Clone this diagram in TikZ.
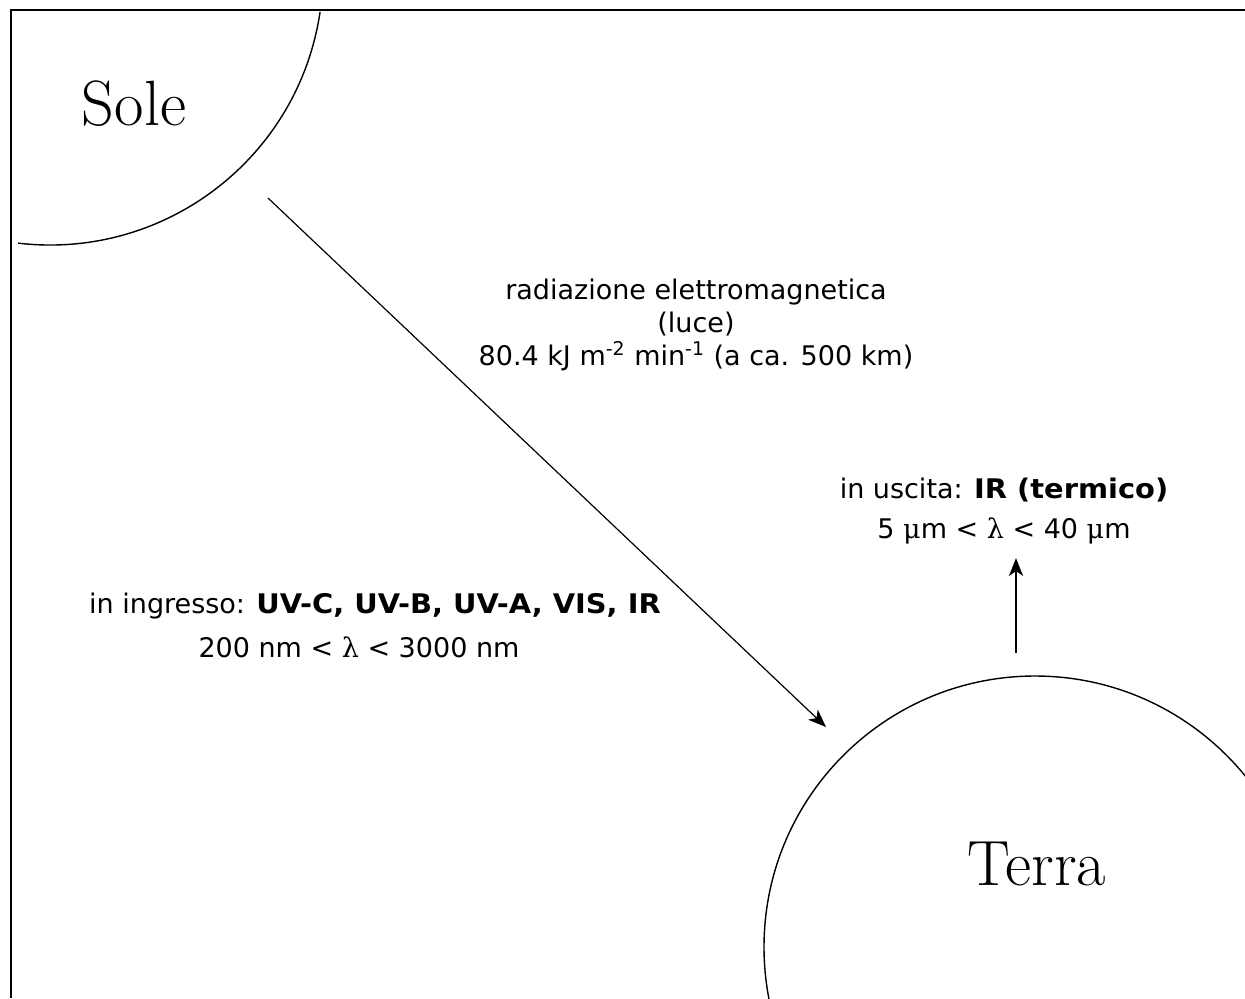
\documentclass[tikz,border=0pt]{standalone}
\usepackage{fontspec}
\setsansfont{DejaVu Sans}[BoldFeatures={FakeStretch=1.07}]
\newfontfamily\greekfont{DejaVu Serif}
\usepackage{tikz}
\usetikzlibrary{arrows.meta}
\tikzset{
  planet/.style={line width=0.7pt},
  ray/.style={line width=0.6pt, -{Stealth[length=9pt,width=7pt,inset=2.5pt]}},
  bodylabel/.style={font=\fontsize{32}{36}\selectfont, inner sep=0pt, anchor=base},
  info/.style={font=\sffamily\fontsize{13.5}{16.5}\selectfont, inner sep=0pt, align=center}
}
\newcommand{\lam}{{\greekfont λ}}
\newcommand{\mic}{{\greekfont μ}}

\begin{document}
\begin{tikzpicture}[x=0.5pt, y=-0.5pt]
  \useasboundingbox (0,0) rectangle (1245,998);
  \draw[line width=1pt] (11,998) -- (11,10) -- (1245,10);

  \draw[planet] (50,-28) ++(8.4:273) arc[start angle=8.4, end angle=96.7, radius=273];
  \begin{scope}
    \clip (11,10) rectangle (1245,998);
    \draw[planet] (1035,947) circle[radius=271];
  \end{scope}
  \node[bodylabel] (sole) at (134,125) {Sole};
  \node[bodylabel] (terra) at (1037,885) {Terra};

  \coordinate (rayfrom) at (268,198);
  \coordinate (rayto) at (826,727);
  \draw[ray] (rayfrom) -- (rayto);
  \coordinate (irfrom) at (1016,653);
  \coordinate (irto) at (1016,558);
  \draw[ray] (irfrom) -- (irto);

  \node[info] (radiazione) at (696,325) {radiazione elettromagnetica\\(luce)\\80.4 kJ m\textsuperscript{-2} min\textsuperscript{-1} (a ca. 500 km)};
  \node[info] (uscita) at (1004,511) {in uscita: \textbf{IR (termico)}\\[3.5pt]5 \mic m < \lam{} < 40 \mic m};
  \node[info, anchor=base] (ingresso) at (375,613) {in ingresso: \textbf{UV-C, UV-B, UV-A, VIS, IR}};
  \node[info, anchor=base] (lambdain) at (359,657) {200 nm < \lam{} < 3000 nm};
\end{tikzpicture}
\end{document}
